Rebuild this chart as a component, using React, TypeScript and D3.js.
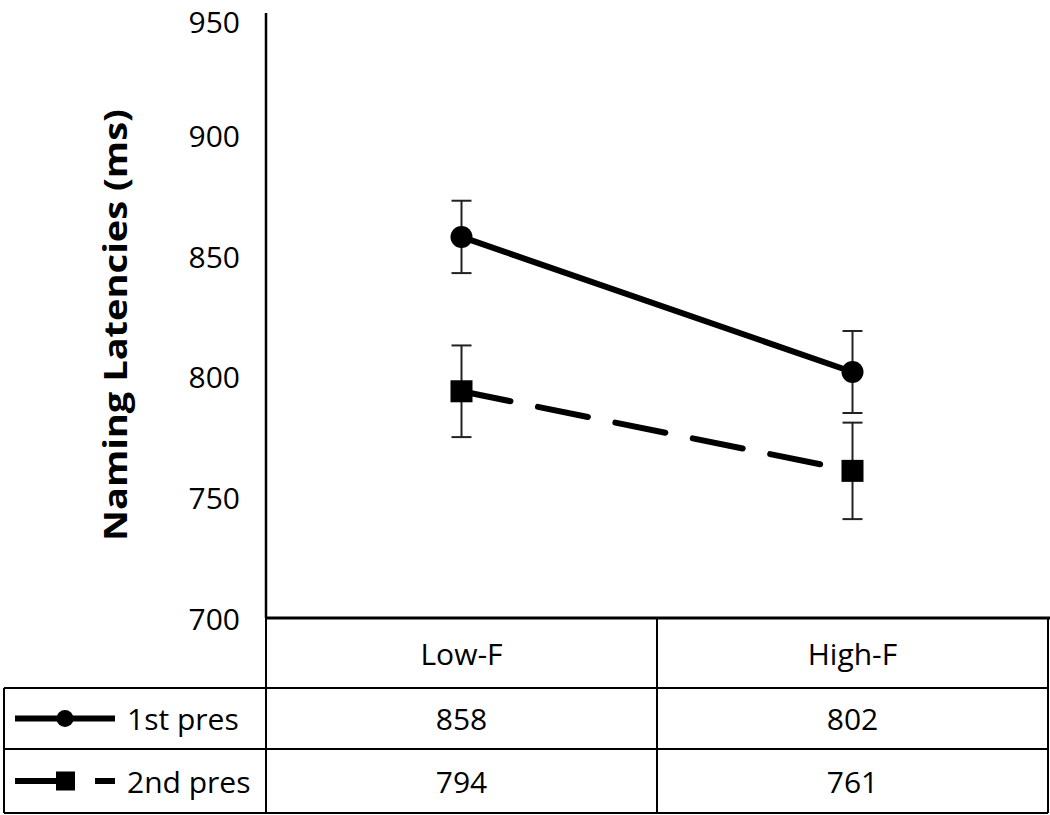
import React from "react";
import * as d3 from "d3";

const categories = ["Low-F", "High-F"];
const seriesNames = ["1st pres", "2nd pres"];
const firstPres = [858, 802];
const secondPres = [794, 761];
const firstErr = [15, 17];
const secondErr = [19, 20];
const yTicks = [700, 750, 800, 850, 900, 950];
const yTitle = "Naming Latencies (ms)";

const W = 1050;
const H = 815;
const FONT = "'Open Sans', 'Noto Sans', sans-serif";

export default function App() {
  const axisX = 266;
  const rightX = 1048;
  const leftX = 4;
  const y = d3.scaleLinear().domain([700, 950]).range([618, 15]);
  const x = d3.scaleBand().domain(categories).range([axisX, rightX]);
  const cx = (c: string) => (x(c) as number) + x.bandwidth() / 2;

  const rowTop = 618;
  const headerBottom = 688;
  const row1Bottom = 749;
  const row2Bottom = 813;

  const line = d3
    .line<number>()
    .x((_, i) => cx(categories[i]))
    .y((v) => y(v));

  const series = [
    { name: seriesNames[0], values: firstPres, err: firstErr, dashed: false, marker: "circle" },
    { name: seriesNames[1], values: secondPres, err: secondErr, dashed: true, marker: "square" },
  ];

  const rows = [
    { top: headerBottom, bottom: row1Bottom },
    { top: row1Bottom, bottom: row2Bottom },
  ];

  return (
    <svg
      width={W}
      height={H}
      style={{ position: "absolute", left: 0, top: 0, background: "#fff" }}
      fontFamily={FONT}
    >
      <rect x={0} y={0} width={W} height={H} fill="#fff" />
      {/* y axis */}
      <line x1={axisX} x2={axisX} y1={13} y2={rowTop} stroke="#000" strokeWidth={2.5} />
      {yTicks.map((t) => (
        <text
          key={t}
          x={240}
          y={Math.max(y(t), 21)}
          textAnchor="end"
          dominantBaseline="central"
          fontSize={30}
          fill="#000"
        >
          {t}
        </text>
      ))}
      <text
        transform={`translate(127, 325) rotate(-90)`}
        textAnchor="middle"
        fontSize={33}
        fontWeight="bold"
        fill="#000"
        textLength={432}
        lengthAdjust="spacingAndGlyphs"
      >
        {yTitle}
      </text>

      {/* error bars */}
      {series.map((s) =>
        s.values.map((v, i) => {
          const xc = cx(categories[i]);
          const y1 = y(v + s.err[i]);
          const y2 = y(v - s.err[i]);
          return (
            <g key={s.name + i} stroke="#222" strokeWidth={2}>
              <line x1={xc} x2={xc} y1={y1} y2={y2} />
              <line x1={xc - 10} x2={xc + 10} y1={y1} y2={y1} />
              <line x1={xc - 10} x2={xc + 10} y1={y2} y2={y2} />
            </g>
          );
        })
      )}

      {/* lines */}
      {series.map((s) => (
        <path
          key={s.name}
          d={line(s.values) as string}
          fill="none"
          stroke="#000"
          strokeWidth={6}
          strokeLinecap="round"
          strokeDasharray={s.dashed ? "51 28" : undefined}
          strokeDashoffset={s.dashed ? 1 : undefined}
        />
      ))}
      {/* markers */}
      {series.map((s) =>
        s.values.map((v, i) => {
          const xc = cx(categories[i]);
          const yc = y(v);
          return s.marker === "circle" ? (
            <circle key={s.name + "m" + i} cx={xc} cy={yc} r={11} fill="#000" />
          ) : (
            <rect key={s.name + "m" + i} x={xc - 11} y={yc - 11} width={22} height={22} fill="#000" />
          );
        })
      )}

      {/* data table */}
      <g stroke="#000" strokeWidth={2}>
        <line x1={axisX} x2={rightX + 2} y1={rowTop} y2={rowTop} strokeWidth={3} />
        <line x1={leftX} x2={rightX} y1={headerBottom} y2={headerBottom} />
        <line x1={leftX} x2={rightX} y1={row1Bottom} y2={row1Bottom} />
        <line x1={leftX} x2={rightX} y1={row2Bottom} y2={row2Bottom} />
        <line x1={leftX} x2={leftX} y1={headerBottom} y2={row2Bottom} />
        <line x1={axisX} x2={axisX} y1={rowTop} y2={row2Bottom} />
        <line
          x1={(x("High-F") as number)}
          x2={(x("High-F") as number)}
          y1={rowTop}
          y2={row2Bottom}
        />
        <line x1={rightX} x2={rightX} y1={rowTop} y2={row2Bottom} />
      </g>
      {categories.map((c) => (
        <text
          key={c}
          x={cx(c)}
          y={(rowTop + headerBottom) / 2}
          textAnchor="middle"
          dominantBaseline="central"
          fontSize={30}
          fill="#000"
        >
          {c}
        </text>
      ))}
      {series.map((s, r) => {
        const yc = (rows[r].top + rows[r].bottom) / 2;
        return (
          <g key={s.name + "row"}>
            {s.values.map((v, i) => (
              <text
                key={i}
                x={cx(categories[i])}
                y={yc}
                textAnchor="middle"
                dominantBaseline="central"
                fontSize={30}
                fill="#000"
              >
                {v}
              </text>
            ))}
            <line
              x1={15}
              x2={115}
              y1={yc}
              y2={yc}
              stroke="#000"
              strokeWidth={6}
              strokeDasharray={s.dashed ? "60 20 20" : undefined}
            />
            {s.marker === "circle" ? (
              <circle cx={65} cy={yc} r={8.5} fill="#000" />
            ) : (
              <rect x={56} y={yc - 9.5} width={19} height={19} fill="#000" />
            )}
            <text x={127} y={yc} dominantBaseline="central" fontSize={30} fill="#000">
              {s.name}
            </text>
          </g>
        );
      })}
    </svg>
  );
}
